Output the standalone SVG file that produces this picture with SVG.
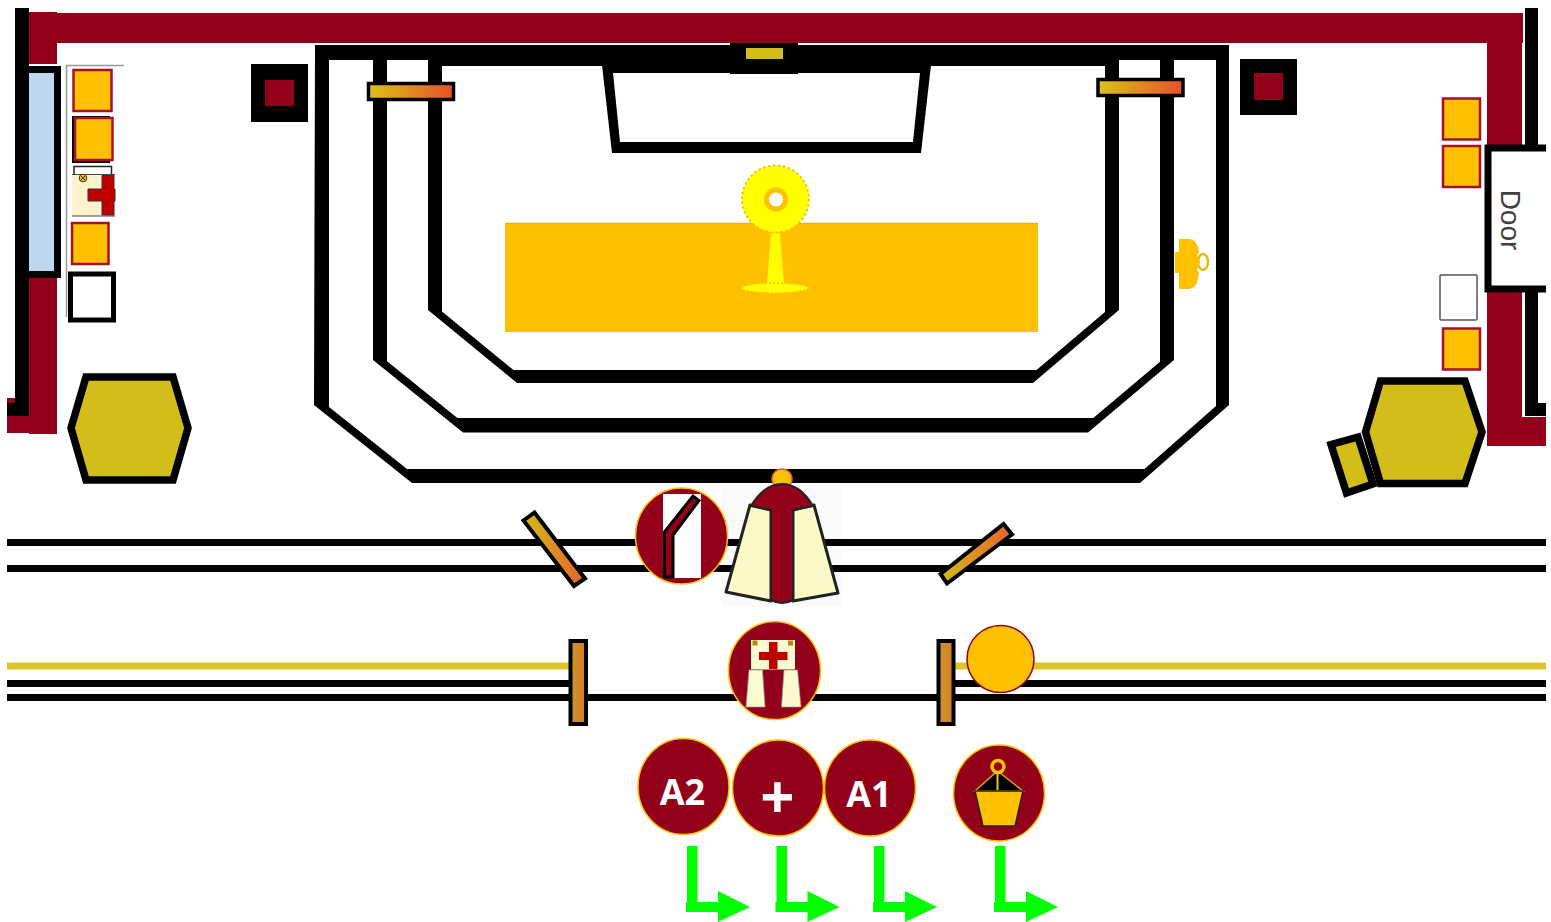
<svg xmlns="http://www.w3.org/2000/svg" width="1551" height="922" viewBox="0 0 1551 922">
<style>
.red{fill:#930019}
.blk{fill:#000}
.sq{fill:#FFC000;stroke:#A5112B;stroke-width:2.5}
.line{fill:none;stroke:#000}
.eo{fill:#000;fill-rule:evenodd}
.hex{fill:#D2BD1A;stroke:#000;stroke-width:7.500;stroke-linejoin:miter}
.disc{fill:#930019;stroke:#FFC000;stroke-width:1.5}
.lbl{font-family:"Open Sans","Liberation Sans",sans-serif;font-weight:700;fill:#fff;text-anchor:middle}
.bar{stroke:#000;stroke-width:3.500}
.post{stroke:#000;stroke-width:4}
.cream{fill:#FAFAC8;stroke:#222;stroke-width:3;stroke-linejoin:round}
.green{fill:#00FF00}
</style>
<defs>
<linearGradient id="gh" x1="0" y1="0" x2="1" y2="0"><stop offset="0" stop-color="#D9C41A"/><stop offset="1" stop-color="#E8502B"/></linearGradient>
<linearGradient id="gg" x1="0" y1="0" x2="1" y2="0"><stop offset="0" stop-color="#D2BD1A"/><stop offset="1" stop-color="#E5622D"/></linearGradient>
<linearGradient id="gv" x1="0" y1="0" x2="1" y2="0"><stop offset="0" stop-color="#C9982A"/><stop offset="1" stop-color="#D87A22"/></linearGradient>
<path id="arrow" d="M0,0H10.500V56H31V45L63,61 31,76V66H-1V56H0Z"/>
</defs>
<rect width="1551" height="922" fill="#fff"/>

<g id="walls">
<rect class="red" x="29" y="13" width="1494" height="30"/>
<rect class="red" x="29" y="12" width="28" height="52"/>
<rect class="red" x="29" y="277" width="28" height="157"/>
<rect class="red" x="7" y="398" width="22" height="35"/>
<rect class="red" x="1487" y="13" width="35" height="135"/>
<rect class="red" x="1487" y="290" width="35" height="156"/>
<rect class="red" x="1487" y="417" width="59" height="29"/>
<rect class="blk" x="15" y="8" width="14" height="408"/>
<rect class="blk" x="7" y="403" width="22" height="13"/>
<rect class="blk" x="1525" y="8" width="13" height="140"/>
<rect class="blk" x="1525" y="290" width="13" height="126"/>
<rect class="blk" x="1525" y="403" width="21" height="13"/>
</g>

<g id="window">
<rect class="blk" x="29" y="66" width="32" height="212"/>
<rect x="29" y="73" width="25" height="198" fill="#BDD7EE"/>
</g>

<g id="door">
<path d="M1546,148H1488V289H1546" fill="#fff" stroke="#000" stroke-width="7"/>
<text x="1510" y="220" transform="rotate(90 1510 220)" font-family="'Liberation Sans',sans-serif" font-size="28" fill="#404040" text-anchor="middle" dominant-baseline="central">Door</text>
</g>

<g id="left-items">
<path d="M124,65.500H66.500V317" fill="none" stroke="#999" stroke-width="1.500"/>
<rect class="sq" x="73.500" y="70" width="38" height="41"/>
<rect class="blk" x="72" y="116" width="38" height="47"/>
<rect class="sq" x="75" y="118" width="37.500" height="42"/>
<rect x="74" y="166.500" width="37.500" height="9" fill="#fff" stroke="#222" stroke-width="1.500"/>
<rect x="72" y="174" width="43" height="42" fill="#FFF2CC"/>
<path d="M72,174.500H115M72,216H115" stroke="#444" fill="none"/>
<path d="M102,175.500H114V189H115V201H114V215H102V201H88V189H102Z" fill="#C00000" stroke="#333" stroke-width="1"/>
<circle cx="83" cy="178" r="3.800" fill="#FFC000" stroke="#333" stroke-width="1"/>
<path d="M80.500,175.500L85.500,180.500M85.500,175.500L80.500,180.500" stroke="#333" stroke-width="1"/>
<rect class="sq" x="72" y="223" width="36.500" height="41"/>
<rect x="70.500" y="274" width="43" height="46" fill="#fff" stroke="#000" stroke-width="5"/>
</g>

<g id="left-ambo"><path class="hex" d="M86,377H173L188,428 173,480H86L71,428Z"/></g>
<g id="pillar-left"><rect class="blk" x="251" y="64" width="57" height="58"/><rect class="red" x="265" y="80" width="29" height="26"/></g>
<g id="pillar-right"><rect class="blk" x="1240" y="59" width="57" height="56"/><rect class="red" x="1254" y="73" width="29" height="27"/></g>

<g id="steps">
<path class="eo" d="M315,45H1229V405L1140,483H412L314,405ZM329,60V407L407,469H1144.500L1216,406V60Z"/>
<path class="eo" d="M373,55H387V361.300L457.400,418H1093.300L1160,361.800V55H1174V360L1088,432.500H463L373,360Z"/>
<path class="eo" d="M428,55H442V311.500L513.400,370H1036.500L1105,311.900V55H1119V310L1033,383H517L428,310Z"/>
</g>

<g id="reredos">
<rect class="blk" x="442" y="45" width="663" height="21"/>
<path class="eo" d="M602,65H931L921,153H612ZM613,73L620,142H913L920,73Z"/>
<rect class="blk" x="730" y="43" width="68" height="31"/>
<rect x="746" y="48" width="37" height="11" fill="#D2BD1A"/>
</g>

<g id="beam-left"><rect class="bar" x="368.500" y="83.500" width="85" height="16" fill="url(#gh)"/></g>
<g id="beam-right"><rect class="bar" x="1098" y="79.500" width="85" height="16" fill="url(#gh)"/></g>

<g id="altar">
<rect x="505" y="223" width="533" height="109" fill="#FFC000"/>
<path d="M505,223.500H1038" stroke="#D2BD1A" stroke-width="1.500"/>
</g>
<g id="monstrance">
<path d="M771,233H780L784,284H767Z" fill="#FFFF00"/>
<ellipse cx="775" cy="288" rx="33" ry="5" fill="#FFFF00" stroke="#FFC000" stroke-width="1.500" stroke-dasharray="2 2"/>
<circle cx="775.500" cy="199" r="33.500" fill="#FFFF00" stroke="#FFC000" stroke-width="2" stroke-dasharray="2.500 2.500"/>
<circle cx="776" cy="199.500" r="9.500" fill="#fff" stroke="#FFC000" stroke-width="5"/>
</g>
<g id="figure">
<ellipse cx="1203" cy="262" rx="5" ry="8" fill="#fff" stroke="#E8B80F" stroke-width="2.500"/>
<path d="M1179,239H1190Q1198,241 1199,252L1197,255 1200,262 1197,270 1199,273Q1198,287 1190,289H1179V273H1175V252H1179Z" fill="#FFC000"/>
</g>

<g id="right-items">
<rect class="sq" x="1443" y="98.500" width="37" height="41"/>
<rect class="sq" x="1443" y="146" width="37" height="41"/>
<rect x="1440" y="275" width="37" height="45" rx="1" fill="#fff" stroke="#555" stroke-width="1.500"/>
<rect class="sq" x="1443" y="328.500" width="37" height="41"/>
</g>
<g id="right-ambo">
<path class="hex" d="M1331,444.500L1358,437 1373,484 1346.500,493Z"/>
<path class="hex" d="M1380.500,381H1465L1482,432 1465,483.500H1380.500L1365.500,432Z"/>
</g>

<g id="chasuble-backdrop"><rect x="721" y="485" width="121" height="122" fill="#FAFAFA"/></g>

<g id="rails">
<path class="line" stroke-width="7" d="M7,542.500H1546M7,568.500H1546"/>
<path d="M7,666H570M950,666H1546" fill="none" stroke="#DCC52A" stroke-width="7"/>
<path class="line" stroke-width="7" d="M7,683.500H570M950,683.500H1546M7,697.500H1546"/>
</g>

<g id="gate-left"><path d="M523.500,520.500L534.500,512.500 585,578.500 574,586Z" fill="url(#gg)" stroke="#000" stroke-width="4"/></g>
<g id="gate-right"><path d="M940.500,574L1003.500,524 1012,534.500 947,583.500Z" fill="url(#gg)" stroke="#000" stroke-width="4"/></g>
<g id="post-left"><rect class="post" x="570.500" y="641" width="15.500" height="83" fill="url(#gv)"/></g>
<g id="post-right"><rect class="post" x="938.500" y="641" width="15" height="83" fill="url(#gv)"/></g>

<g id="processional-icon">
<ellipse class="disc" cx="681.500" cy="536" rx="46" ry="48"/>
<rect x="663" y="494" width="38" height="84" fill="#fff"/>
<path d="M664.500,532L693,496 699,500.500 673,535V577H664.500Z" fill="#930019" stroke="#000" stroke-width="3"/>
</g>

<g id="chasuble">
<circle cx="782" cy="479" r="10" fill="#FFC000" stroke="#C8684A" stroke-width="1.500"/>
<path class="cream" d="M750,505L771,510V601L726,592Z"/>
<path class="cream" d="M814,505L793,510V601L838,593Z"/>
<path d="M751,506Q764,484 782,484 800,484 813,506L793,510V600Q782,606 771,600V510Z" fill="#930019" stroke="#222" stroke-width="2"/>
</g>

<g id="stole-icon">
<ellipse class="disc" cx="774.500" cy="670.500" rx="46" ry="49"/>
<rect x="751" y="640" width="44" height="29.500" fill="#FBFBD0"/>
<path d="M749,670H762.500L765,707H746Z" fill="#FBFBD0" stroke="#999" stroke-width=".7"/>
<path d="M784,670H797.500L801,707H781.500Z" fill="#FBFBD0" stroke="#999" stroke-width=".7"/>
<path d="M769,642H777.500V652H787.500V660H777.500V669H769V660H759V652H769Z" fill="#C00000"/>
<rect x="752.500" y="640.500" width="5" height="5" fill="#B8860B"/>
<rect x="788" y="640.500" width="5" height="5" fill="#B8860B"/>
</g>

<g id="bell"><circle cx="1000.500" cy="659" r="33.500" fill="#FFC000" stroke="#930019" stroke-width="1.500"/></g>

<g id="a2"><ellipse class="disc" cx="683.500" cy="786.500" rx="45.500" ry="48"/><text class="lbl" x="682.500" y="805" font-size="36">A2</text></g>
<g id="cross"><ellipse class="disc" cx="778" cy="788" rx="45.500" ry="48"/><text class="lbl" x="777.500" y="819" font-size="60">+</text></g>
<g id="a1"><ellipse class="disc" cx="870" cy="788" rx="45.500" ry="48"/><text class="lbl" x="869" y="807" font-size="36">A1</text></g>
<g id="thurible">
<ellipse class="disc" cx="999" cy="793" rx="45.500" ry="48"/>
<path d="M975,791L997.500,771 1023,791Z" fill="#000" stroke="#D9A520" stroke-width="1.500"/>
<path d="M997.500,771V791" stroke="#FFC000" stroke-width="2"/>
<path d="M975,791H1023L1015,826H983Z" fill="#FFC000" stroke="#222" stroke-width="1.500"/>
<circle cx="998" cy="766.500" r="6" fill="#930019" stroke="#FFC000" stroke-width="3.500"/>
</g>

<g id="connectors" class="green">
<use href="#arrow" x="687" y="846"/>
<use href="#arrow" x="776.500" y="846"/>
<use href="#arrow" x="874" y="846"/>
<use href="#arrow" x="995" y="846"/>
</g>
</svg>
